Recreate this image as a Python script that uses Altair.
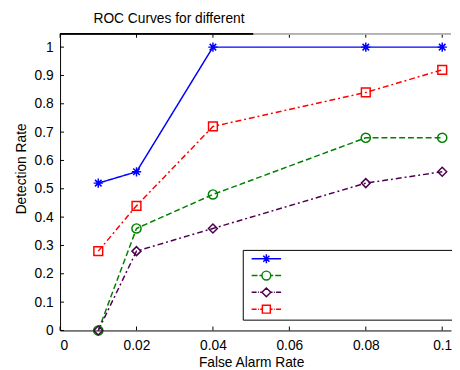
import altair as alt
import pandas as pd

# ---- data ----
far = [0.01, 0.02, 0.04, 0.08, 0.1]
s1 = [0.52, 0.56, 1.0, 1.0, 1.0]
s2 = [0.0, 0.36, 0.48, 0.68, 0.68]
s3 = [0.0, 0.28, 0.36, 0.52, 0.56]
s4 = [0.28, 0.44, 0.72, 0.84, 0.92]
series_names = ["s1", "s2", "s3", "s4"]
x_ticks = [0, 0.02, 0.04, 0.06, 0.08, 0.1]
y_ticks = [0, 0.1, 0.2, 0.3, 0.4, 0.5, 0.6, 0.7, 0.8, 0.9, 1.0]

# ---- styles ----
colors = ["#0000ff", "#008000", "#4d004d", "#ff0000"]
dashes = [[1, 0], [6, 3], [6, 3, 2, 3], [6, 3, 2, 3]]
star = "M-1,0H1M0,-1V1M-0.7,-0.7L0.7,0.7M-0.7,0.7L0.7,-0.7"
circ = "M1,0A1,1 0 1,1 -1,0A1,1 0 1,1 1,0Z"
diam = "M0,-1L1,0L0,1L-1,0Z"
sqr = "M-0.9,-0.9H0.9V0.9H-0.9Z"
shapes = [star, "circle", "diamond", "square"]
sizes = [90, 80, 100, 70]
# legend glyphs: line sample (with its dash pattern) plus the marker
leg_shapes = [
    "M-3.33,0H3.33" + star,
    "M-3.33,0H-2M-1.56,0H-1M1,0H1.56M2,0H3.33" + circ,
    "M-3.33,0H-2.2M-1.9,0H-1.7M-1.4,0H-1M1,0H1.4M1.7,0H1.9M2.2,0H3.33" + diam,
    "M-3.33,0H-2.2M-1.9,0H-1.7M-1.4,0H-0.9M0.9,0H1.4M1.7,0H1.9M2.2,0H3.33" + sqr,
]
FONT = "Liberation Sans"
W, H = 398, 302

rows = []
for name, vals in zip(series_names, [s1, s2, s3, s4]):
    for xv, yv in zip(far, vals):
        rows.append({"x": xv, "y": yv, "series": name})
df = pd.DataFrame(rows)
leg_df = pd.DataFrame({"series": series_names, "x": [None] * 4, "y": [None] * 4})
ytick_df = pd.DataFrame({"y": y_ticks})
xtick_df = pd.DataFrame({"x": x_ticks})

xscale = alt.Scale(domain=[0, 0.1023], nice=False, zero=False)
yscale = alt.Scale(domain=[0, 1.047], nice=False, zero=False)
xaxis = alt.Axis(values=x_ticks, format="~g", ticks=False, tickSize=0, grid=False,
                 labelPadding=8, titlePadding=4, titleX=194.5,
                 domainColor="black", domainWidth=1)
yaxis = alt.Axis(values=y_ticks, format="~g", ticks=False, tickSize=0, grid=False,
                 labelPadding=7, titlePadding=5.5, titleY=137,
                 domainColor="black", domainWidth=1)
X = alt.X("x:Q", scale=xscale, axis=xaxis, title="False Alarm Rate")
Y = alt.Y("y:Q", scale=yscale, axis=yaxis, title="Detection Rate")
color_scale = alt.Scale(domain=series_names, range=colors)

lines = alt.Chart(df).mark_line(strokeWidth=1.5).encode(
    x=X, y=Y,
    color=alt.Color("series:N", scale=color_scale, legend=None),
    strokeDash=alt.StrokeDash("series:N", scale=alt.Scale(domain=series_names, range=dashes), legend=None),
)

points = alt.Chart(df).mark_point(filled=False, strokeWidth=1.5, opacity=1).encode(
    x=X, y=Y,
    color=alt.Color("series:N", scale=color_scale, legend=None),
    shape=alt.Shape("series:N", scale=alt.Scale(domain=series_names, range=shapes), legend=None),
    size=alt.Size("series:O", scale=alt.Scale(domain=series_names, range=sizes), legend=None),
)

leg = alt.Legend(title=None, orient="none", legendX=186, legendY=220,
                 labelExpr="' '", labelFontSize=12, labelOffset=194,
                 padding=3, rowPadding=1.1, symbolSize=81, symbolOffset=15,
                 symbolStrokeWidth=1.5, symbolFillColor="transparent", strokeColor="black")
legend_layer = alt.Chart(leg_df).mark_point(filled=False, strokeWidth=1.5, opacity=1).encode(
    x=X, y=Y,
    stroke=alt.Stroke("series:N", scale=alt.Scale(domain=series_names, range=colors), legend=leg),
    shape=alt.Shape("series:N", scale=alt.Scale(domain=series_names, range=leg_shapes), legend=leg),
)

yticks = alt.Chart(ytick_df).mark_rule(color="black", strokeWidth=1).encode(
    y=Y, x=alt.value(0), x2=alt.value(4))
xticks_bottom = alt.Chart(xtick_df).mark_rule(color="black", strokeWidth=1).encode(
    x=X, y=alt.value(H), y2=alt.value(H - 4))
xticks_top = alt.Chart(xtick_df).mark_rule(color="black", strokeWidth=1).encode(
    x=X, y=alt.value(0), y2=alt.value(4))
top_black = alt.Chart(xtick_df).mark_rule(color="black", strokeWidth=1).encode(
    x=alt.value(0), x2=alt.value(197), y=alt.value(0))
top_grey = alt.Chart(xtick_df).mark_rule(color="#b0b0b0", strokeWidth=1).encode(
    x=alt.value(197), x2=alt.value(W), y=alt.value(0))

chart = alt.layer(lines, points, legend_layer, yticks, xticks_bottom, xticks_top,
                  top_black, top_grey).resolve_scale(shape="independent", stroke="independent").properties(
    width=W, height=H,
    title=alt.TitleParams("ROC Curves for different", anchor="start", frame="group", dx=34, offset=8,
                          fontSize=14, font=FONT, fontWeight="normal", color="black"),
    autosize="none",
    background="white",
    padding={"left": 53, "top": 23, "right": 1, "bottom": 38},
).configure_view(stroke=None).configure_axis(
    labelFont=FONT, titleFont=FONT, labelFontSize=14, titleFontSize=14,
    titleFontWeight="normal", labelColor="black", titleColor="black",
)

chart.save("out.html", embed_options={"renderer": "svg", "actions": False})
